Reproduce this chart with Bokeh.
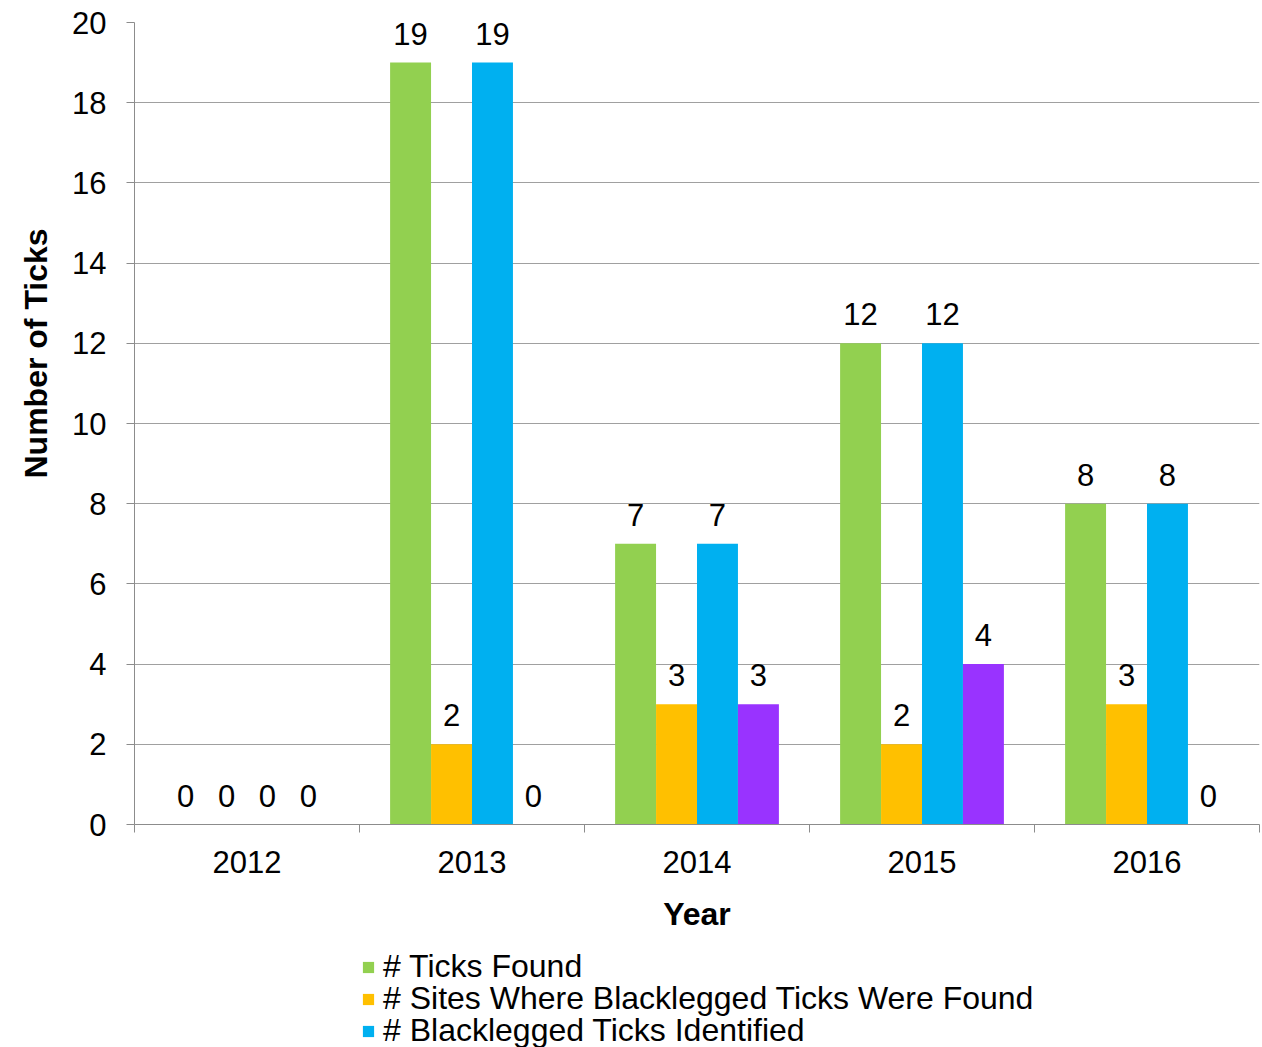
import numpy as np
from bokeh.plotting import figure
from bokeh.layouts import column
from bokeh.models import Range1d, FixedTicker, ColumnDataSource, Legend, LegendItem, Title
from bokeh.core.properties import value
from bokeh.embed import file_html
from bokeh.resources import INLINE

years = ["2012", "2013", "2014", "2015", "2016"]
ticks_found = [0, 19, 7, 12, 8]
sites_found = [0, 2, 3, 2, 3]
blacklegged_identified = [0, 19, 7, 12, 8]
fourth_series = [0, 0, 3, 4, 0]
y_ticks = [0, 2, 4, 6, 8, 10, 12, 14, 16, 18, 20]

series = [
    ("# Ticks Found", ticks_found, "#92D050"),
    ("# Sites Where Blacklegged Ticks Were Found", sites_found, "#FFC000"),
    ("# Blacklegged Ticks Identified", blacklegged_identified, "#00B0F0"),
    (None, fourth_series, "#9933FF"),
]

FONT = "Liberation Sans"
FS = "31px"
W = 1262
H1 = 944
H2 = 103
LEFT = 134
p = figure(width=W, height=H1, output_backend="svg", toolbar_location=None,
           x_range=Range1d(0, len(years)), y_range=Range1d(0, 20),
           min_border_left=LEFT, min_border_right=3, min_border_top=22,
           min_border_bottom=H1 - 824)
p.outline_line_color = None
p.background_fill_color = "white"

centers = np.arange(len(years)) + 0.5
bar_w = 0.182
offsets = [-1.5 * bar_w, -0.5 * bar_w, 0.5 * bar_w, 1.5 * bar_w]

for (name, vals, color), off in zip(series, offsets):
    xs = centers + off
    src = ColumnDataSource(dict(x=xs, top=vals, lab=[str(v) for v in vals]))
    p.vbar(x="x", top="top", width=bar_w, bottom=0, source=src,
           fill_color=color, line_color=None)
    p.text(x="x", y="top", text="lab", source=src, text_align="center",
           text_baseline="middle", y_offset=-29, text_font=value(FONT),
           text_font_size=FS, text_color="black")

# x axis
xa = p.xaxis[0]
xa.ticker = FixedTicker(ticks=list(centers), minor_ticks=list(np.arange(len(years) + 1)))
xa.major_label_overrides = {float(c): y for c, y in zip(centers, years)}
xa.major_tick_out = 0
xa.major_tick_in = 0
xa.minor_tick_out = 8
xa.minor_tick_in = 0
xa.minor_tick_line_color = "#8C8C8C"
xa.axis_line_color = "#8C8C8C"
xa.major_label_text_font = FONT
xa.major_label_text_font_size = FS
xa.major_label_text_color = "black"
xa.major_label_standoff = 18
xa.axis_label = "Year"
xa.axis_label_text_font = FONT
xa.axis_label_text_font_size = "32px"
xa.axis_label_text_font_style = "bold"
xa.axis_label_text_color = "black"
xa.axis_label_standoff = 20

# y axis
ya = p.yaxis[0]
ya.ticker = FixedTicker(ticks=y_ticks)
ya.major_tick_out = 8
ya.major_tick_in = 0
ya.minor_tick_out = 0
ya.minor_tick_in = 0
ya.major_tick_line_color = "#8C8C8C"
ya.axis_line_color = "#8C8C8C"
ya.major_label_text_font = FONT
ya.major_label_text_font_size = FS
ya.major_label_text_color = "black"
ya.major_label_standoff = 20

ytitle = Title(text="Number of Ticks", align="left", offset=346, standoff=31,
               text_font=FONT, text_font_size="32px", text_font_style="bold",
               text_color="black")
p.add_layout(ytitle, "left")

p.xgrid.visible = False
p.ygrid.grid_line_color = "#A0A0A0"
p.ygrid.grid_line_width = 1

# legend figure (one single-item legend per row); its frame aligns with p's
q = figure(width=W, height=H2, output_backend="svg", toolbar_location=None,
           x_range=Range1d(0, 1), y_range=Range1d(0, 1),
           x_axis_location=None, y_axis_location=None,
           min_border_left=LEFT, min_border_right=3, min_border_top=0,
           min_border_bottom=0)
q.outline_line_color = None
q.background_fill_color = "white"
q.xgrid.visible = False
q.ygrid.visible = False
for g in q.grid:
    g.visible = False
row_step = 32
i = 0
for name, vals, color in series:
    if not name:
        continue
    r = q.vbar(x=[0.5], top=[0.0], bottom=[0.0], width=0.0,
               fill_color=color, line_color=None)
    lg = Legend(items=[LegendItem(label=name, renderers=[r])],
                location=(361 - LEFT, 62 - row_step * i), orientation="vertical",
                padding=0, spacing=0, margin=0, label_height=32,
                glyph_height=14, glyph_width=14, label_standoff=8,
                label_text_font=FONT, label_text_font_size="32px",
                label_text_color="black", border_line_color=None,
                background_fill_alpha=0)
    q.add_layout(lg, "center")
    i += 1

layout = column(p, q, spacing=0)
open("out.html", "w").write(file_html(layout, INLINE))
